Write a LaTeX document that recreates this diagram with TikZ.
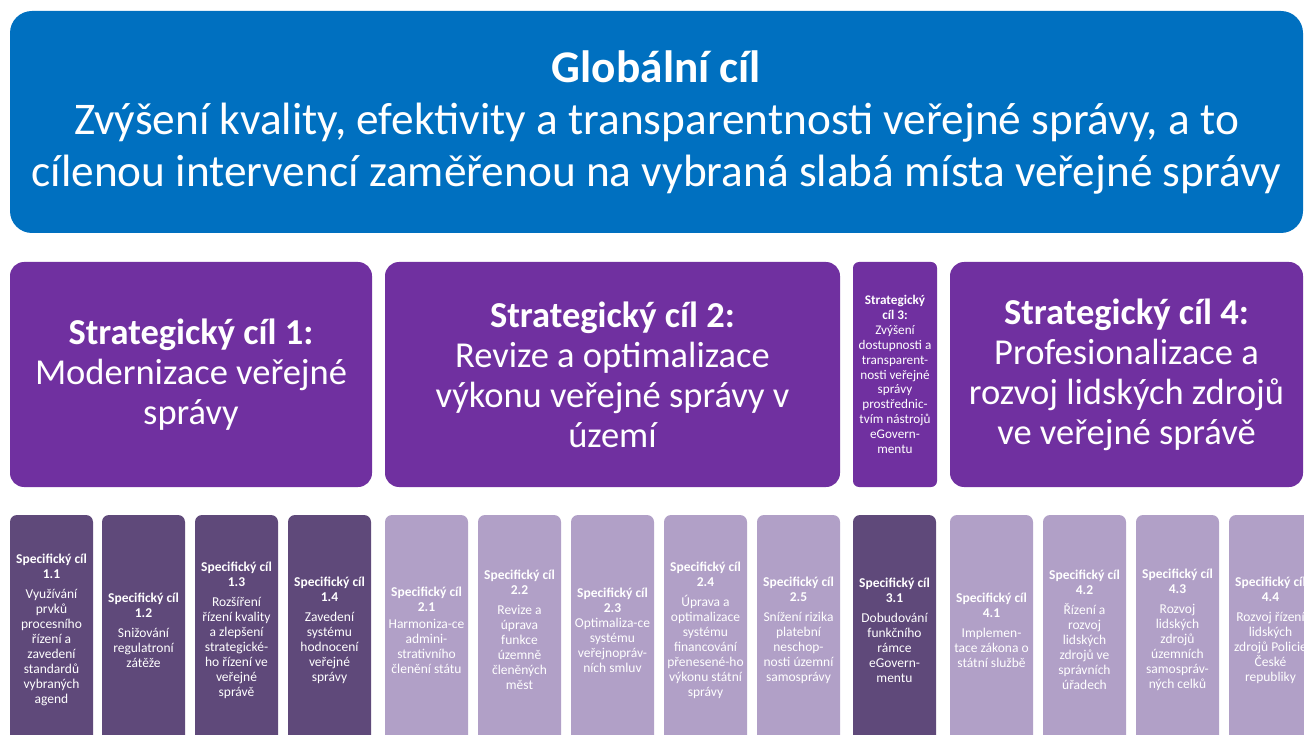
\documentclass[tikz,border=0pt]{standalone}
\usepackage{fontspec}
\setmainfont{Carlito}
\definecolor{globalblue}{HTML}{0070C0}
\definecolor{stratpurple}{HTML}{7030A0}
\definecolor{specdark}{HTML}{5F497A}
\definecolor{speclight}{HTML}{B1A0C7}

\begin{document}
\begin{tikzpicture}
	[x=1pt,y=-1pt,
	goalbox/.style={fill=globalblue, rounded corners=22pt, text=white, align=center, inner sep=0pt,
		font=\fontsize{45.3}{52}\selectfont},
	stratbox/.style={fill=stratpurple, rounded corners=14pt, text=white, align=center, inner sep=0pt,
		minimum height=225pt, font=\fontsize{36.5}{40}\selectfont},
	specbox/.style={rounded corners=7pt, text=white, align=center, inner sep=0pt,
		minimum width=83pt, minimum height=230pt, font=\fontsize{13.5}{15}\selectfont}]
	\clip (0,0) rectangle (1304,735);
	\node[goalbox, minimum width=1293pt, minimum height=222pt] (goal) at (656.5,122)
		{\textbf{Globální cíl}\\Zvýšení kvality, efektivity a transparentnosti veřejné správy, a to\\cílenou intervencí zaměřenou na vybraná slabá místa veřejné správy};
	
	\node[stratbox, minimum width=362pt] (strat1) at (191,374.5)
		{\textbf{Strategický cíl 1:}\\Modernizace veřejné\\správy};
	\node[stratbox, minimum width=455pt] (strat2) at (612.5,374.5)
		{\textbf{Strategický cíl 2:}\\Revize a optimalizace\\výkonu veřejné správy v\\území};
	\node[stratbox, minimum width=84pt, rounded corners=6pt, font=\fontsize{13.2}{14.9}\selectfont] (strat3) at (895,374.5)
		{\textbf{Strategický}\\\textbf{cíl 3:}\\Zvýšení\\dostupnosti a\\transparent-\\nosti veřejné\\správy\\prostřednic-\\tvím nástrojů\\eGovern-\\mentu};
	\node[stratbox, minimum width=353pt] (strat4) at (1126.5,374.5)
		{\textbf{Strategický cíl 4:}\\Profesionalizace a\\rozvoj lidských zdrojů\\ve veřejné správě};
	
	\foreach \num/\x/\col/\gap/\txt [count=\k] in {
		1.1/10/specdark/5pt/{Využívání\\prvků\\procesního\\řízení a\\zavedení\\standardů\\vybraných\\agend},
		1.2/102/specdark/5pt/{Snižování\\regulatroní\\zátěže},
		1.3/195/specdark/5pt/{Rozšíření\\řízení kvality\\a zlepšení\\strategické-\\ho řízení ve\\veřejné\\správě},
		1.4/288/specdark/5pt/{Zavedení\\systému\\hodnocení\\veřejné\\správy},
		2.1/385/speclight/2pt/{Harmoniza-ce\\admini-\\strativního\\členění státu},
		2.2/478/speclight/5pt/{Revize a\\úprava\\funkce\\územně\\členěných\\měst},
		2.3/571/speclight/0pt/{Optimaliza-ce\\systému\\veřejnopráv-\\ních smluv},
		2.4/664/speclight/5pt/{Úprava a\\optimalizace\\systému\\financování\\přenesené-ho\\výkonu státní\\správy},
		2.5/757/speclight/5pt/{Snížení rizika\\platební\\neschop-\\nosti územní\\samosprávy},
		3.1/853/specdark/5pt/{Dobudování\\funkčního\\rámce\\eGovern-\\mentu},
		4.1/950/speclight/5pt/{Implemen-\\tace zákona o\\státní službě},
		4.2/1043/speclight/5pt/{Řízení a\\rozvoj\\lidských\\zdrojů ve\\správních\\úřadech},
		4.3/1136/speclight/5pt/{Rozvoj\\lidských\\zdrojů\\územních\\samospráv-\\ných celků},
		4.4/1229/speclight/5pt/{Rozvoj řízení\\lidských\\zdrojů Policie\\České\\republiky}}
	\node[specbox, fill=\col] (spec\k) at (\x+41.5,630)
		{\textbf{Specifický cíl}\\\textbf{\num}\\[\gap]\txt};
\end{tikzpicture}
\end{document}
